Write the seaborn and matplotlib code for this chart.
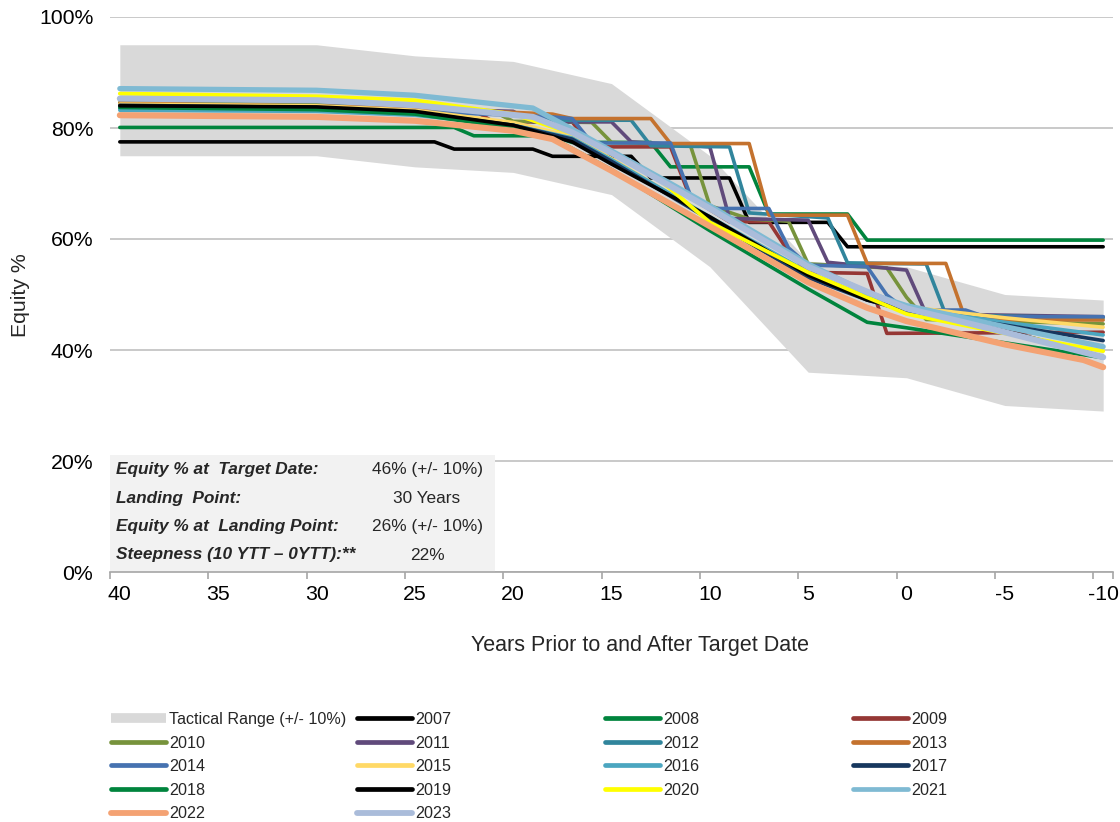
import matplotlib
matplotlib.use("Agg")
import matplotlib.pyplot as plt
from matplotlib.lines import Line2D
from matplotlib.patches import Rectangle
import seaborn as sns
import pandas as pd

# ---- tactical range (+/- 10%) ----
band_years = [40, 35, 30, 25, 20, 15, 10, 5, 0, -5, -10]
band_low = [75, 75, 75, 73, 72, 68, 55, 36, 35, 30, 29]
band_high = [95, 95, 95, 93, 92, 88, 75, 56, 55, 50, 49]

# ---- glide paths by vintage (years to target, equity %) ----
yrs_2007 = [40, 24, 23, 19, 18, 14, 13, 9, 8, 4, 3, -10]
eq_2007 = [77.5, 77.5, 76.2, 76.2, 74.9, 74.9, 71.0, 71.0, 63.0, 63.0, 58.6, 58.6]

yrs_2008 = [40, 23, 22, 18, 17, 13, 12, 8, 7, 3, 2, -10]
eq_2008 = [80.1, 80.1, 78.6, 78.6, 77.4, 77.4, 73.0, 73.0, 64.5, 64.5, 59.8, 59.8]

yrs_2009 = [40, 30, 22, 21, 17, 16, 12, 11, 9, 7, 6, 5, 2, 1, -10]
eq_2009 = [84.3, 84.0, 83.2, 81.1, 81.1, 76.6, 76.6, 67.5, 63.1, 63.1, 57.7, 54.0, 53.8, 43.0, 43.2]

yrs_2010 = [40, 30, 21, 20, 16, 15, 11, 10, 8, 6, 5, 1, 0, -1, -10]
eq_2010 = [84.6, 84.2, 83.0, 81.2, 81.0, 77.4, 77.0, 66.0, 63.6, 63.2, 55.5, 54.8, 49.5, 45.5, 44.7]

yrs_2011 = [40, 30, 20, 19, 15, 14, 10, 9, 5, 4, 0, -1, -10]
eq_2011 = [84.3, 84.0, 83.0, 81.1, 81.1, 77.5, 76.6, 63.7, 63.4, 55.8, 54.4, 46.5, 46.0]

yrs_2012 = [40, 30, 19, 18, 14, 13, 9, 8, 4, 3, -1, -2, -10]
eq_2012 = [83.5, 83.2, 82.5, 81.4, 81.4, 76.8, 76.6, 64.7, 63.8, 55.7, 55.5, 46.3, 45.8]

yrs_2013 = [40, 25, 18, 17, 13, 12, 8, 7, 3, 2, -2, -3, -10]
eq_2013 = [84.5, 83.6, 82.5, 81.7, 81.7, 77.2, 77.2, 64.3, 64.3, 55.6, 55.6, 45.5, 45.4]

yrs_2014 = [40, 25, 18, 17, 16, 12, 11, 10, 7, 6, 5, 2, 1, 0, -3, -4, -10]
eq_2014 = [83.8, 83.0, 82.0, 81.7, 77.3, 77.3, 68.0, 65.5, 65.5, 58.4, 55.3, 55.0, 49.9, 47.2, 47.2, 46.0, 46.0]

yrs_smooth = [40, 30, 25, 20, 17, 15, 10, 5, 2, 0, -5, -10]
eq_2015 = [84.3, 84.0, 83.2, 81.0, 78.5, 74.5, 63.8, 53.5, 49.5, 47.8, 45.8, 44.1]
eq_2016 = [83.2, 83.0, 82.3, 80.5, 78.2, 74.3, 64.0, 54.0, 49.5, 47.5, 45.0, 42.7]
eq_2017 = [84.1, 83.7, 82.8, 80.5, 78.0, 74.0, 63.5, 53.0, 49.0, 47.0, 44.5, 41.7]
eq_2019 = [84.0, 83.8, 83.0, 80.5, 77.5, 73.5, 64.0, 53.5, 49.0, 47.3, 43.5, 38.8]

yrs_2018 = [40, 30, 25, 20, 18, 15, 10, 5, 2, 0, -5, -10]
eq_2018 = [83.7, 83.3, 82.5, 80.0, 78.2, 72.5, 61.5, 51.0, 45.0, 44.0, 41.3, 38.6]

yrs_2020 = [40, 30, 25, 20, 17, 15, 13, 10, 5, 0, -5, -10]
eq_2020 = [86.2, 85.7, 85.0, 82.5, 79.0, 75.5, 72.0, 63.0, 54.0, 46.5, 43.0, 39.8]

yrs_2021 = [40, 30, 25, 19, 17, 12, 10, 5, 2, 0, -5, -10]
eq_2021 = [87.1, 86.8, 85.9, 83.6, 79.8, 70.0, 66.0, 55.5, 50.3, 48.0, 44.2, 40.6]

yrs_2022 = [40, 30, 25, 20, 18, 15, 10, 5, 2, 0, -5, -9, -10]
eq_2022 = [82.3, 82.0, 81.3, 79.5, 78.0, 72.3, 62.3, 52.2, 47.6, 45.2, 41.0, 38.2, 36.9]

yrs_2023 = [40, 30, 25, 19, 17, 15, 10, 5, 0, -5, -10]
eq_2023 = [85.3, 85.0, 84.1, 82.0, 79.2, 75.5, 65.5, 55.0, 47.5, 43.2, 38.7]

vintages = ["2007", "2008", "2009", "2010", "2011", "2012", "2013", "2014", "2015",
            "2016", "2017", "2018", "2019", "2020", "2021", "2022", "2023"]
vintage_years = [yrs_2007, yrs_2008, yrs_2009, yrs_2010, yrs_2011, yrs_2012, yrs_2013,
                 yrs_2014, yrs_smooth, yrs_smooth, yrs_smooth, yrs_2018, yrs_smooth,
                 yrs_2020, yrs_2021, yrs_2022, yrs_2023]
vintage_equity = [eq_2007, eq_2008, eq_2009, eq_2010, eq_2011, eq_2012, eq_2013, eq_2014,
                  eq_2015, eq_2016, eq_2017, eq_2018, eq_2019, eq_2020, eq_2021, eq_2022,
                  eq_2023]

colors = {
    "2007": "#000000", "2008": "#00843D", "2009": "#953735", "2010": "#77933C",
    "2011": "#604A7B", "2012": "#31859C", "2013": "#C4722E", "2014": "#4672B0",
    "2015": "#FFD966", "2016": "#4BA6C0", "2017": "#17375E", "2018": "#00843D",
    "2019": "#000000", "2020": "#FFFF00", "2021": "#7FBAD3", "2022": "#F4A273",
    "2023": "#AABCDA",
}
widths = {v: 2.6 for v in vintages}
widths.update({"2020": 2.8, "2021": 3.8, "2022": 4.4, "2023": 4.4})

x_ticks = [40, 35, 30, 25, 20, 15, 10, 5, 0, -5, -10]
y_ticks = [0, 20, 40, 60, 80, 100]

info_labels = ["Equity % at  Target Date:", "Landing  Point:",
               "Equity % at  Landing Point:", "Steepness (10 YTT \u2013 0YTT):**"]
info_values = ["46% (+/- 10%)", "30 Years", "26% (+/- 10%)", "22%"]

# ---- styling ----
sns.set_style("white")
plt.rcParams["font.family"] = ["Liberation Sans", "DejaVu Sans"]

W, H = 1120, 822
fig = plt.figure(figsize=(W / 100, H / 100), dpi=100)
ax = fig.add_axes([110 / W, 1 - 572 / H, (1113 - 110) / W, (572 - 17) / H])

# tactical range band
band = pd.DataFrame({"years": band_years, "low": band_low, "high": band_high})
ax.fill_between(band["years"], band["low"], band["high"], color="#D9D9D9", lw=0, zorder=1)

# information box over the lower-left plot area
ax.add_patch(Rectangle((0, 0), (495 - 110) / (1113 - 110), (572 - 455) / 555,
                       transform=ax.transAxes, facecolor="#F2F2F2", edgecolor="none",
                       zorder=1.2))

for i, v in enumerate(vintages):
    df = pd.DataFrame({"years": vintage_years[i], "equity": vintage_equity[i]})
    sns.lineplot(data=df, x="years", y="equity", ax=ax, color=colors[v],
                 linewidth=widths[v], estimator=None, sort=False, legend=False,
                 solid_joinstyle="round", solid_capstyle="round", zorder=2 + i * 0.01)

ax.set_xlim(40.5, -10.5)
ax.set_ylim(0, 100)
ax.set_xticks(x_ticks)
ax.set_xticklabels([str(t) for t in x_ticks])
ax.set_xticks([40.5, 35.5, 30.5, 25.5, 20.5, 15.5, 10.5, 5.5, 0.5, -4.5, -9.5, -10.5],
              minor=True)
ax.set_yticks(y_ticks)
ax.set_yticklabels([f"{t}%" for t in y_ticks])
ax.tick_params(axis="x", which="major", length=0, pad=9, labelsize=15.3, colors="#000000")
ax.tick_params(axis="x", which="minor", length=5, width=1.2, color="#A6A6A6",
               direction="out", bottom=True)
ax.tick_params(axis="y", length=0, pad=12, labelsize=15.3, colors="#000000")

ax.grid(axis="y", color="#C0C0C0", linewidth=1.2)
ax.grid(axis="x", visible=False)
ax.set_axisbelow(True)
for s in ["top", "right", "left"]:
    ax.spines[s].set_visible(False)
ax.spines["bottom"].set_color("#A6A6A6")
ax.spines["bottom"].set_linewidth(1.2)
ax.spines["bottom"].set_zorder(3)

ax.set_xlabel("")
ax.set_ylabel("")
fig.text(640 / W, 1 - 645 / H, "Years Prior to and After Target Date",
         ha="center", va="center", fontsize=15.5)
fig.text(20 / W, 1 - 295 / H, "Equity %", rotation=90, ha="center", va="center",
         fontsize=15.3)

# information box text
row_y = [469, 498, 526, 555]
for lab, val, yy in zip(info_labels, info_values, row_y):
    fig.text(116 / W, 1 - yy / H, lab, ha="left", va="center", fontsize=12.4,
             fontweight="bold", fontstyle="italic")
    fig.text(427 / W, 1 - yy / H, val, ha="center", va="center", fontsize=12.4)

# legend laid out in four equal-width columns
def handle_for(v):
    return Line2D([0], [0], color=colors[v], lw=3.4 if widths[v] < 4 else 4.2,
                  solid_capstyle="round")

band_handle = Line2D([0], [0], color="#D9D9D9", lw=7, solid_capstyle="butt")
columns = [
    ["Tactical Range (+/- 10%)", "2010", "2014", "2018", "2022"],
    ["2007", "2011", "2015", "2019", "2023"],
    ["2008", "2012", "2016", "2020"],
    ["2009", "2013", "2017", "2021"],
]
col_x = [111, 357, 605, 853]
for labels, cx in zip(columns, col_x):
    handles = [band_handle if l.startswith("Tactical") else handle_for(l) for l in labels]
    fig.legend(handles, labels, loc="upper left", bbox_to_anchor=(cx / W, 1 - 712 / H),
               frameon=False, fontsize=11.6, handlelength=3.4, handletextpad=0.2,
               labelspacing=0.53, borderpad=0, borderaxespad=0)

fig.savefig("out.png", dpi=100)
